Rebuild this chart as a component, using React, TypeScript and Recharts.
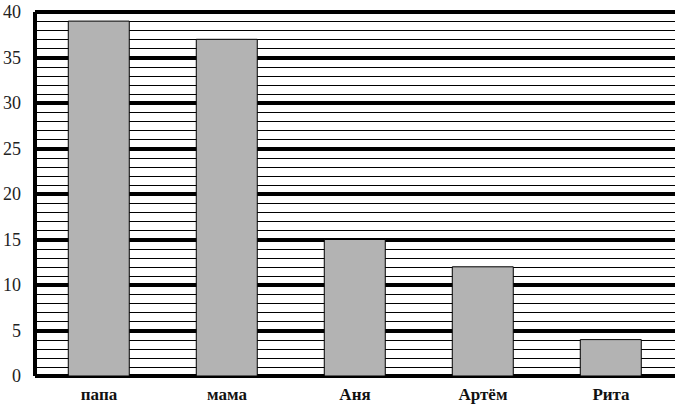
import * as React from "react"
import { Bar, BarChart, CartesianGrid, XAxis, YAxis } from "recharts"

const names = ["папа", "мама", "Аня", "Артём", "Рита"]
const values = [39, 37, 15, 12, 4]
const majorTicks = [0, 5, 10, 15, 20, 25, 30, 35, 40]
const minorTicks = Array.from({ length: 41 }, (_, i) => i)

const data = names.map((name, i) => ({ name, value: values[i] }))

const font = "'Liberation Serif', 'DejaVu Serif', serif"

const ThinLine = (p: any) => {
  const y = Math.round(p.y1) + 0.5
  return <line key={p.key} x1={p.x1} x2={p.x2} y1={y} y2={y} stroke="#000" strokeWidth={1} />
}

const ThickLine = (p: any) => {
  const y = Math.round(p.y1)
  return <line key={p.key} x1={p.x1} x2={p.x2} y1={y} y2={y} stroke="#000" strokeWidth={4} />
}

const XTick = (p: any) => (
  <text
    x={p.x}
    y={p.y + 16}
    textAnchor="middle"
    fill="#111"
    style={{ fontFamily: font, fontSize: 17, fontWeight: "bold" }}
  >
    {p.payload.value}
  </text>
)

// only label every fifth tick, the rest are just grid lines
const YTick = (p: any) => {
  if (!majorTicks.includes(p.payload.value)) return <g />
  return (
    <text
      x={p.x}
      y={p.y + 6}
      textAnchor="end"
      fill="#222"
      style={{ fontFamily: font, fontSize: 18 }}
    >
      {p.payload.value}
    </text>
  )
}

export default function App() {
  return (
    <div style={{ position: "absolute", left: 0, top: 0, background: "#fff" }}>
      <BarChart
        width={681}
        height={404}
        data={data}
        margin={{ top: 12, right: 6, bottom: 0, left: 0 }}
        barCategoryGap="26%"
      >
        <CartesianGrid vertical={false} horizontal={ThinLine} stroke="#000" />
        <CartesianGrid
          vertical={false}
          horizontalValues={majorTicks}
          horizontal={ThickLine}
          stroke="#000"
        />
        <XAxis
          dataKey="name"
          axisLine={false}
          tickLine={false}
          height={28}
          tick={XTick}
        />
        <YAxis
          domain={[0, 40]}
          ticks={minorTicks}
          interval={0}
          width={35}
          axisLine={{ stroke: "#000", strokeWidth: 4 }}
          tickLine={false}
          tick={YTick}
          tickMargin={8}
        />
        <Bar
          dataKey="value"
          fill="#b3b3b3"
          stroke="#000"
          strokeWidth={1}
          isAnimationActive={false}
        />
      </BarChart>
    </div>
  )
}
